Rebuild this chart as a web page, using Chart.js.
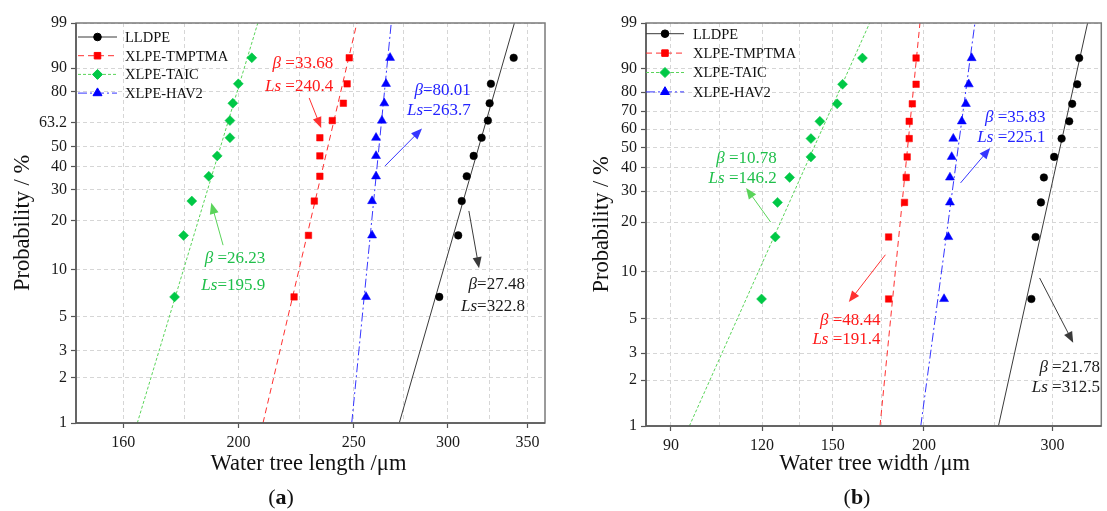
<!DOCTYPE html>
<html>
<head>
<meta charset="utf-8">
<title>Weibull plots of water tree length and width</title>
<script src="https://cdn.jsdelivr.net/npm/chart.js@4.4.1/dist/chart.umd.min.js"></script>
<style>
    html, body { margin: 0; padding: 0; background: #fff; }
    #wrap { position: relative; width: 1107px; height: 511px; overflow: hidden; }
    #wrap canvas { position: absolute; top: 0; }
</style>
</head>
<body>
<div id="wrap">
    <canvas id="chartA" width="553" height="511" style="left:0"></canvas>
    <canvas id="chartB" width="554" height="511" style="left:553px"></canvas>
</div>
<script>
(function () {
    'use strict';

    // ---- data ----
    var SERIES_NAMES = ['LLDPE', 'XLPE-TMPTMA', 'XLPE-TAIC', 'XLPE-HAV2'];

    // cumulative failure probability (%) of the 10 ranked samples
    var PROB = [6.7, 16.3, 26.0, 35.6, 45.2, 54.8, 64.4, 74.0, 83.7, 93.3];
    // the fitted lines run from 1 % to 99 %
    var FIT_PROB = [1, 99];

    // (a) water tree length / um
    var LEN_LLDPE  = [295.0, 306.0, 308.1, 311.1, 315.3, 320.2, 324.1, 325.2, 326.0, 340.7];
    var LEN_TMPTMA = [222.7, 229.0, 231.6, 234.1, 234.1, 234.1, 239.8, 245.0, 246.8, 247.8];
    var LEN_TAIC   = [176.7, 179.8, 182.7, 188.8, 191.9, 196.7, 196.7, 197.8, 199.9, 205.2];
    var LEN_HAV2   = [256.0, 259.0, 259.0, 261.0, 261.0, 261.0, 264.0, 265.2, 266.1, 268.2];
    var LEN_FIT_LLDPE  = [273.0, 341.2];
    var LEN_FIT_TMPTMA = [209.7, 251.5];
    var LEN_FIT_TAIC   = [164.4, 207.6];
    var LEN_FIT_HAV2   = [249.0, 268.8];

    // (b) water tree width / um
    var WID_LLDPE  = [280.7, 284.5, 289.3, 292.0, 301.6, 308.8, 316.3, 319.3, 324.4, 326.4];
    var WID_TMPTMA = [178.9, 178.9, 188.1, 189.1, 189.7, 190.9, 190.9, 192.8, 195.1, 195.1];
    var WID_TAIC   = [119.8, 125.1, 126.0, 130.9, 140.0, 140.0, 144.0, 152.1, 154.7, 164.7];
    var WID_HAV2   = [213.1, 216.0, 217.1, 217.1, 218.3, 219.4, 225.4, 228.3, 230.4, 232.5];
    var WID_FIT_LLDPE  = [253.0, 335.2];
    var WID_FIT_TMPTMA = [174.1, 197.5];
    var WID_FIT_TAIC   = [95.4, 168.5];
    var WID_FIT_HAV2   = [198.0, 234.9];

    // axis ticks
    var Y_TICKS_A = [1, 2, 3, 5, 10, 20, 30, 40, 50, 63.2, 80, 90, 99];
    var Y_TICKS_B = [1, 2, 3, 5, 10, 20, 30, 40, 50, 60, 70, 80, 90, 99];
    var X_LABELS_A = [160, 200, 250, 300, 350];
    var X_GRID_A   = [160, 180, 200, 225, 250, 275, 300, 325, 350];
    var X_LABELS_B = [90, 120, 150, 200, 300];
    var X_GRID_B   = [90, 105, 120, 135, 150, 175, 200, 250, 300, 350];

    // ---- styles ----
    var SERIF = '"Liberation Serif", "Times New Roman", serif';
    var MARK_COLORS = ['#000000', '#ff0000', '#00c846', '#0000ff'];
    var LINE_COLORS = ['#3a3a3a', '#ff3030', '#5ad45a', '#3535ff'];
    var TEXT_COLORS = ['#1a1a1a', '#ff1a1a', '#1fbf4a', '#2424ff'];
    var LINE_DASH = [[], [6, 4], [3, 2], [9, 3, 2, 3]];
    var POINT_STYLES = ['circle', 'rect', 'rectRot', 'triangle'];
    var POINT_RADII = [3.8, 4.6, 5, 5.2];

    function weib(p) {
        return Math.log(-Math.log(1 - p / 100));
    }

    function arrow(ctx, x0, y0, x1, y1, color) {
        var ang = Math.atan2(y1 - y0, x1 - x0);
        var len = 11, half = 4.5;
        ctx.strokeStyle = color;
        ctx.fillStyle = color;
        ctx.lineWidth = 1;
        ctx.setLineDash([]);
        ctx.beginPath();
        ctx.moveTo(x0, y0);
        ctx.lineTo(x1 - Math.cos(ang) * len * 0.7, y1 - Math.sin(ang) * len * 0.7);
        ctx.stroke();
        ctx.beginPath();
        ctx.moveTo(x1, y1);
        ctx.lineTo(x1 - len * Math.cos(ang) + half * Math.sin(ang), y1 - len * Math.sin(ang) - half * Math.cos(ang));
        ctx.lineTo(x1 - len * Math.cos(ang) - half * Math.sin(ang), y1 - len * Math.sin(ang) + half * Math.cos(ang));
        ctx.closePath();
        ctx.fill();
    }

    // [italic, upright] pair, right aligned at xRight
    function drawParam(ctx, pair, xRight, y, size, color) {
        var fItal = 'italic ' + size + 'px ' + SERIF;
        var fNorm = size + 'px ' + SERIF;
        ctx.font = fItal;
        var w1 = ctx.measureText(pair[0]).width;
        ctx.font = fNorm;
        var w2 = ctx.measureText(pair[1]).width;
        var x = xRight - w1 - w2;
        ctx.fillStyle = color;
        ctx.textAlign = 'left';
        ctx.textBaseline = 'middle';
        ctx.font = fItal;
        ctx.fillText(pair[0], x, y);
        ctx.font = fNorm;
        ctx.fillText(pair[1], x + w1, y);
    }

    function makeDecor(cfg) {
        return {
            id: 'decor',
            afterDraw: function (chart) {
                var ctx = chart.ctx;
                var a = chart.chartArea;
                var xs = chart.scales.x, ys = chart.scales.y;
                ctx.save();

                // frame
                ctx.setLineDash([]);
                ctx.strokeStyle = '#7a7a7a';
                ctx.lineWidth = 1.5;
                ctx.strokeRect(a.left, a.top, a.right - a.left, a.bottom - a.top);
                ctx.strokeStyle = '#555';
                ctx.beginPath();
                ctx.moveTo(a.left, a.top);
                ctx.lineTo(a.left, a.bottom);
                ctx.lineTo(a.right, a.bottom);
                ctx.stroke();

                // legend
                var lg = cfg.legend;
                for (var i = 0; i < SERIES_NAMES.length; i++) {
                    var ly = a.top + lg.top + i * lg.step;
                    ctx.strokeStyle = LINE_COLORS[i];
                    ctx.lineWidth = 1;
                    ctx.setLineDash(LINE_DASH[i]);
                    ctx.beginPath();
                    ctx.moveTo(a.left + lg.lineStart, ly);
                    ctx.lineTo(a.left + lg.lineEnd, ly);
                    ctx.stroke();
                    ctx.setLineDash([]);
                    ctx.fillStyle = MARK_COLORS[i];
                    ctx.strokeStyle = MARK_COLORS[i];
                    Chart.helpers.drawPoint(ctx, {
                        pointStyle: POINT_STYLES[i], radius: POINT_RADII[i], rotation: 0, borderWidth: 0.5
                    }, a.left + (lg.lineStart + lg.lineEnd) / 2, ly);
                    ctx.fillStyle = '#111';
                    ctx.font = '14.5px ' + SERIF;
                    ctx.textAlign = 'left';
                    ctx.textBaseline = 'middle';
                    ctx.fillText(SERIES_NAMES[i], a.left + lg.text, ly + 1);
                }

                // beta / Ls annotations with arrows
                cfg.notes.forEach(function (n) {
                    var c = TEXT_COLORS[n.series];
                    var tx = xs.getPixelForValue(n.x), ty = ys.getPixelForValue(weib(n.p));
                    drawParam(ctx, n.beta, tx, ty, 17, c);
                    drawParam(ctx, n.ls, tx, ty + n.gap, 17, c);
                    arrow(ctx,
                        xs.getPixelForValue(n.from[0]), ys.getPixelForValue(weib(n.from[1])),
                        xs.getPixelForValue(n.to[0]), ys.getPixelForValue(weib(n.to[1])),
                        LINE_COLORS[n.series]);
                });

                // axis titles
                ctx.fillStyle = '#111';
                ctx.textAlign = 'center';
                ctx.textBaseline = 'middle';
                ctx.font = '22.5px ' + SERIF;
                ctx.fillText(cfg.xTitle, (a.left + a.right) / 2 + cfg.xTitleShift, 464);
                ctx.save();
                ctx.translate(cfg.yTitleX, (a.top + a.bottom) / 2);
                ctx.rotate(-Math.PI / 2);
                ctx.fillText('Probability / %', 0, 0);
                ctx.restore();

                // panel label "(a)" / "(b)" with bold letter
                var fN = '22px ' + SERIF, fB = 'bold 22px ' + SERIF;
                ctx.font = fN;
                var wp = ctx.measureText('(').width, wq = ctx.measureText(')').width;
                ctx.font = fB;
                var wl = ctx.measureText(cfg.tag).width;
                var sx = cfg.tagX - (wp + wl + wq) / 2;
                ctx.textAlign = 'left';
                ctx.font = fN;
                ctx.fillText('(', sx, 498);
                ctx.font = fB;
                ctx.fillText(cfg.tag, sx + wp, 498);
                ctx.font = fN;
                ctx.fillText(')', sx + wp + wl, 498);

                ctx.restore();
            }
        };
    }

    function buildChart(canvasId, cfg) {
        var datasets = [];
        cfg.points.forEach(function (vals, i) {
            datasets.push({
                label: SERIES_NAMES[i],
                data: vals.map(function (v, j) { return { x: v, y: weib(PROB[j]) }; }),
                showLine: false,
                pointStyle: POINT_STYLES[i],
                pointRadius: POINT_RADII[i],
                pointBackgroundColor: MARK_COLORS[i],
                pointBorderColor: MARK_COLORS[i],
                pointBorderWidth: 0.5
            });
        });
        cfg.fits.forEach(function (ends, i) {
            datasets.push({
                label: SERIES_NAMES[i] + ' fit',
                data: ends.map(function (v, j) { return { x: v, y: weib(FIT_PROB[j]) }; }),
                showLine: true,
                pointRadius: 0,
                borderColor: LINE_COLORS[i],
                borderWidth: 1,
                borderDash: LINE_DASH[i],
                fill: false
            });
        });

        var yTicks = cfg.yTicks, xLabels = cfg.xLabels, xGrid = cfg.xGrid;
        var tickFont = { family: SERIF, size: 16 };

        return new Chart(document.getElementById(canvasId), {
            type: 'scatter',
            data: { datasets: datasets },
            options: {
                responsive: false,
                animation: false,
                layout: { padding: cfg.padding },
                plugins: { legend: { display: false }, tooltip: { enabled: false } },
                scales: {
                    x: {
                        type: 'logarithmic',
                        min: cfg.xMin,
                        max: cfg.xMax,
                        afterBuildTicks: function (s) {
                            s.ticks = xGrid.map(function (v) { return { value: v }; });
                        },
                        afterFit: function (s) { s.height = cfg.xAxisHeight; },
                        ticks: {
                            autoSkip: false,
                            maxRotation: 0,
                            minRotation: 0,
                            padding: 5,
                            color: '#1a1a1a',
                            font: tickFont,
                            callback: function (v) {
                                return xLabels.indexOf(v) >= 0 ? String(v) : '';
                            }
                        },
                        grid: {
                            color: '#d6d6d6',
                            lineWidth: 1,
                            drawTicks: true,
                            tickLength: 5,
                            tickBorderDash: [],
                            tickWidth: 1.2,
                            tickColor: function (c) {
                                return (c.tick && xLabels.indexOf(c.tick.value) >= 0) ? '#555' : 'rgba(0,0,0,0)';
                            }
                        },
                        border: { display: false, dash: [4, 3] }
                    },
                    y: {
                        type: 'linear',
                        min: weib(1),
                        max: weib(99),
                        afterBuildTicks: function (s) {
                            s.ticks = yTicks.map(function (p) { return { value: weib(p) }; });
                        },
                        afterFit: function (s) { s.width = cfg.yAxisWidth; },
                        ticks: {
                            autoSkip: false,
                            padding: 4,
                            color: '#1a1a1a',
                            font: tickFont,
                            callback: function (v, idx) { return String(yTicks[idx]); }
                        },
                        grid: {
                            color: '#d6d6d6',
                            lineWidth: 1,
                            drawTicks: true,
                            tickLength: 5,
                            tickBorderDash: [],
                            tickWidth: 1.2,
                            tickColor: '#555'
                        },
                        border: { display: false, dash: [4, 3] }
                    }
                }
            },
            plugins: [makeDecor(cfg)]
        });
    }

    // (a) length
    buildChart('chartA', {
        points: [LEN_LLDPE, LEN_TMPTMA, LEN_TAIC, LEN_HAV2],
        fits: [LEN_FIT_LLDPE, LEN_FIT_TMPTMA, LEN_FIT_TAIC, LEN_FIT_HAV2],
        yTicks: Y_TICKS_A, xLabels: X_LABELS_A, xGrid: X_GRID_A,
        xMin: 146, xMax: 362,
        padding: { left: 0, right: 8, top: 23, bottom: 0 },
        yAxisWidth: 76, xAxisHeight: 88,
        legend: { top: 14, step: 18.7, lineStart: 2, lineEnd: 41, text: 49 },
        xTitle: 'Water tree length /\u03bcm', xTitleShift: -2, yTitleX: 23,
        tag: 'a', tagX: 281,
        notes: [
            { series: 1, beta: ['\u03b2', ' =33.68'], ls: ['Ls', ' =240.4'], x: 240.2, p: 91.7, gap: 23,
              from: [229.3, 76.8], to: [234.7, 60.2] },
            { series: 3, beta: ['\u03b2', '=80.01'], ls: ['Ls', '=263.7'], x: 313.6, p: 80.3, gap: 20,
              from: [265.6, 40.3], to: [285.3, 59.9] },
            { series: 2, beta: ['\u03b2', ' =26.23'], ls: ['Ls', '=195.9'], x: 210.6, p: 11.7, gap: 27,
              from: [194.1, 14.2], to: [189.7, 25.4] },
            { series: 0, beta: ['\u03b2', '=27.48'], ls: ['Ls', '=322.8'], x: 348.2, p: 8.0, gap: 22,
              from: [312.4, 22.8], to: [318.6, 10.2] }
        ]
    });

    // (b) width
    buildChart('chartB', {
        points: [WID_LLDPE, WID_TMPTMA, WID_TAIC, WID_HAV2],
        fits: [WID_FIT_LLDPE, WID_FIT_TMPTMA, WID_FIT_TAIC, WID_FIT_HAV2],
        yTicks: Y_TICKS_B, xLabels: X_LABELS_B, xGrid: X_GRID_B,
        xMin: 83.2, xMax: 350,
        padding: { left: 0, right: 1, top: 23, bottom: 0 },
        yAxisWidth: 93, xAxisHeight: 85,
        legend: { top: 10.7, step: 19.4, lineStart: 0, lineEnd: 38, text: 47 },
        xTitle: 'Water tree width /\u03bcm', xTitleShift: 1, yTitleX: 49,
        tag: 'b', tagX: 304,
        notes: [
            { series: 2, beta: ['\u03b2', ' =10.78'], ls: ['Ls', ' =146.2'], x: 125.7, p: 44.6, gap: 20,
              from: [123.3, 20.0], to: [114.1, 31.3] },
            { series: 3, beta: ['\u03b2', ' =35.83'], ls: ['Ls', ' =225.1'], x: 293.5, p: 66.3, gap: 20,
              from: [224.5, 33.3], to: [246.5, 49.8] },
            { series: 1, beta: ['\u03b2', ' =48.44'], ls: ['Ls', ' =191.4'], x: 174.4, p: 4.9, gap: 19,
              from: [177.1, 12.7], to: [157.8, 6.4] },
            { series: 0, beta: ['\u03b2', ' =21.78'], ls: ['Ls', ' =312.5'], x: 348.5, p: 2.43, gap: 20,
              from: [288.1, 9.1], to: [320.3, 3.5] }
        ]
    });
})();
</script>
</body>
</html>
